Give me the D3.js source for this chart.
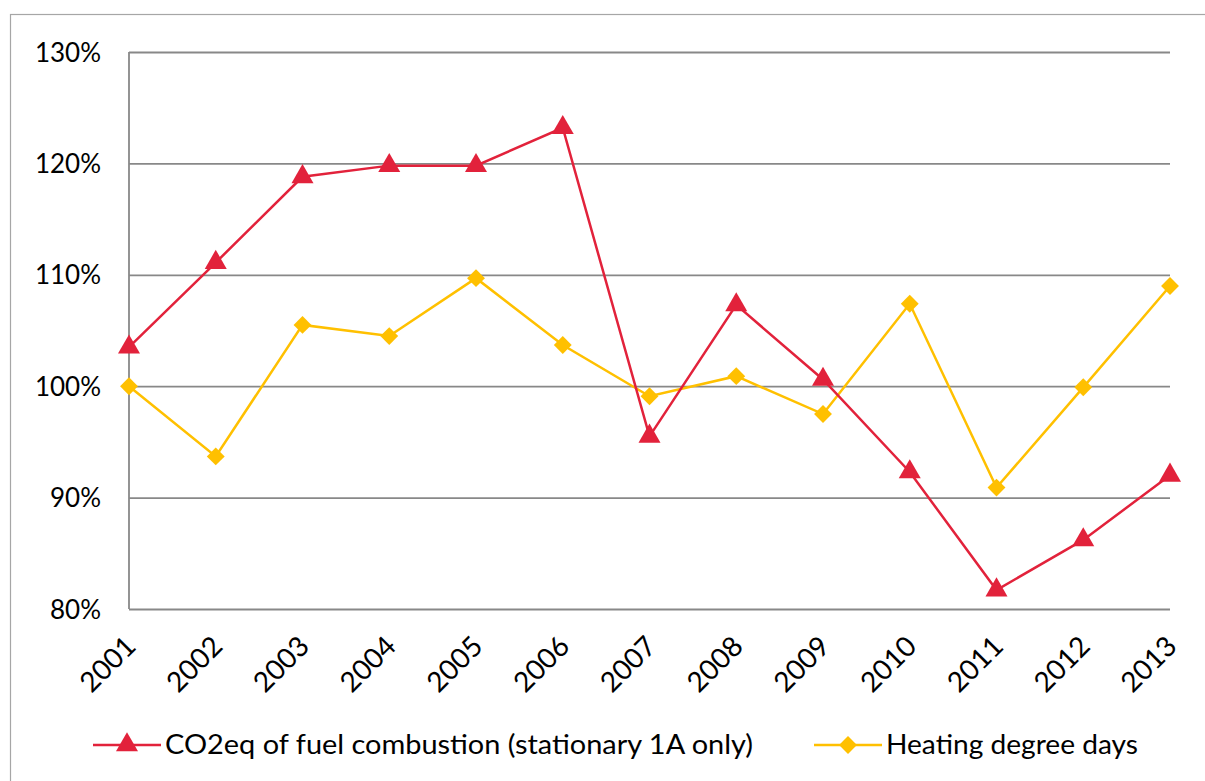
<!DOCTYPE html>
<html><head><meta charset="utf-8">
<script src="https://cdn.jsdelivr.net/npm/d3@7"></script>
<style>body{margin:0;background:#fff}svg{display:block}text{font-family:Lato,"Open Sans",sans-serif;fill:#000}</style>
</head><body>
<script>
const years = ["2001","2002","2003","2004","2005","2006","2007","2008","2009","2010","2011","2012","2013"];
const co2 = [103.5,111.1,118.8,119.8,119.8,123.2,95.5,107.3,100.6,92.3,81.7,86.2,92.0];
const hdd = [100.0,93.7,105.5,104.5,109.7,103.7,99.1,100.9,97.5,107.4,90.9,99.9,109.0];
const yTicks = [80,90,100,110,120,130];
const seriesNames = ["CO2eq of fuel combustion (stationary 1A only)","Heating degree days"];
const colors = ["#e2223b","#ffc000"];

const W=1205,H=781;
const svg=d3.select("body").append("svg").attr("width",W).attr("height",H);
svg.append("rect").attr("x",10.5).attr("y",14.5).attr("width",1200).attr("height",780).attr("fill","none").attr("stroke","#a6a6a6").attr("stroke-width",1.2);

const x=d3.scalePoint().domain(years).range([129,1170]);
const y=d3.scaleLinear().domain([80,130]).range([609,52]);

const yAxis=svg.append("g").attr("transform","translate(129,0)")
  .call(d3.axisLeft(y).tickValues(yTicks).tickSize(-(1170-129)).tickFormat(d=>d+"%"));
yAxis.select(".domain").remove();
yAxis.selectAll(".tick line").attr("stroke","#888").attr("stroke-width",1.8);
yAxis.selectAll(".tick text").attr("x",-28).attr("font-size",26).attr("dy","0.35em").style("font-family","Lato");
svg.append("line").attr("x1",129).attr("x2",129).attr("y1",52).attr("y2",609).attr("stroke","#888").attr("stroke-width",1.8);

const xAxis=svg.append("g").attr("transform","translate(0,609)").call(d3.axisBottom(x).tickSize(0));
xAxis.select(".domain").remove();
xAxis.selectAll(".tick text").attr("font-size",28).attr("text-anchor","end")
  .attr("transform","translate(1,32) rotate(-45)").attr("dy","0.35em").attr("y",0).style("font-family","Lato");

const line=d3.line().x((d,i)=>x(years[i])).y(d=>y(d));
const tri=d3.symbol().type(d3.symbolTriangle).size(210);
const dia=d3.symbol().type(d3.symbolSquare).size(160);

svg.append("path").datum(hdd).attr("d",line).attr("fill","none").attr("stroke",colors[1]).attr("stroke-width",2.5);
svg.append("path").datum(co2).attr("d",line).attr("fill","none").attr("stroke",colors[0]).attr("stroke-width",2.5);
svg.selectAll(".hd").data(hdd).join("path").attr("d",dia)
  .attr("transform",(d,i)=>`translate(${x(years[i])},${y(d)}) rotate(45)`).attr("fill",colors[1]);
svg.selectAll(".co").data(co2).join("path").attr("d",tri)
  .attr("transform",(d,i)=>`translate(${x(years[i])},${y(d)})`).attr("fill",colors[0]);

const lg=[{x:93,sym:tri,rot:0,w:588},{x:814,sym:dia,rot:45,w:252}];
lg.forEach((l,i)=>{
  const g=svg.append("g");
  g.append("line").attr("x1",l.x).attr("x2",l.x+68).attr("y1",745).attr("y2",745).attr("stroke",colors[i]).attr("stroke-width",2.5);
  g.append("path").attr("d",l.sym).attr("transform",`translate(${l.x+34},745) rotate(${l.rot})`).attr("fill",colors[i]);
  g.append("text").attr("x",l.x+72).attr("y",745).attr("dy","0.35em").attr("font-size",27)
    .attr("textLength",l.w).attr("lengthAdjust","spacingAndGlyphs").text(seriesNames[i]);
});
</script>
</body></html>
